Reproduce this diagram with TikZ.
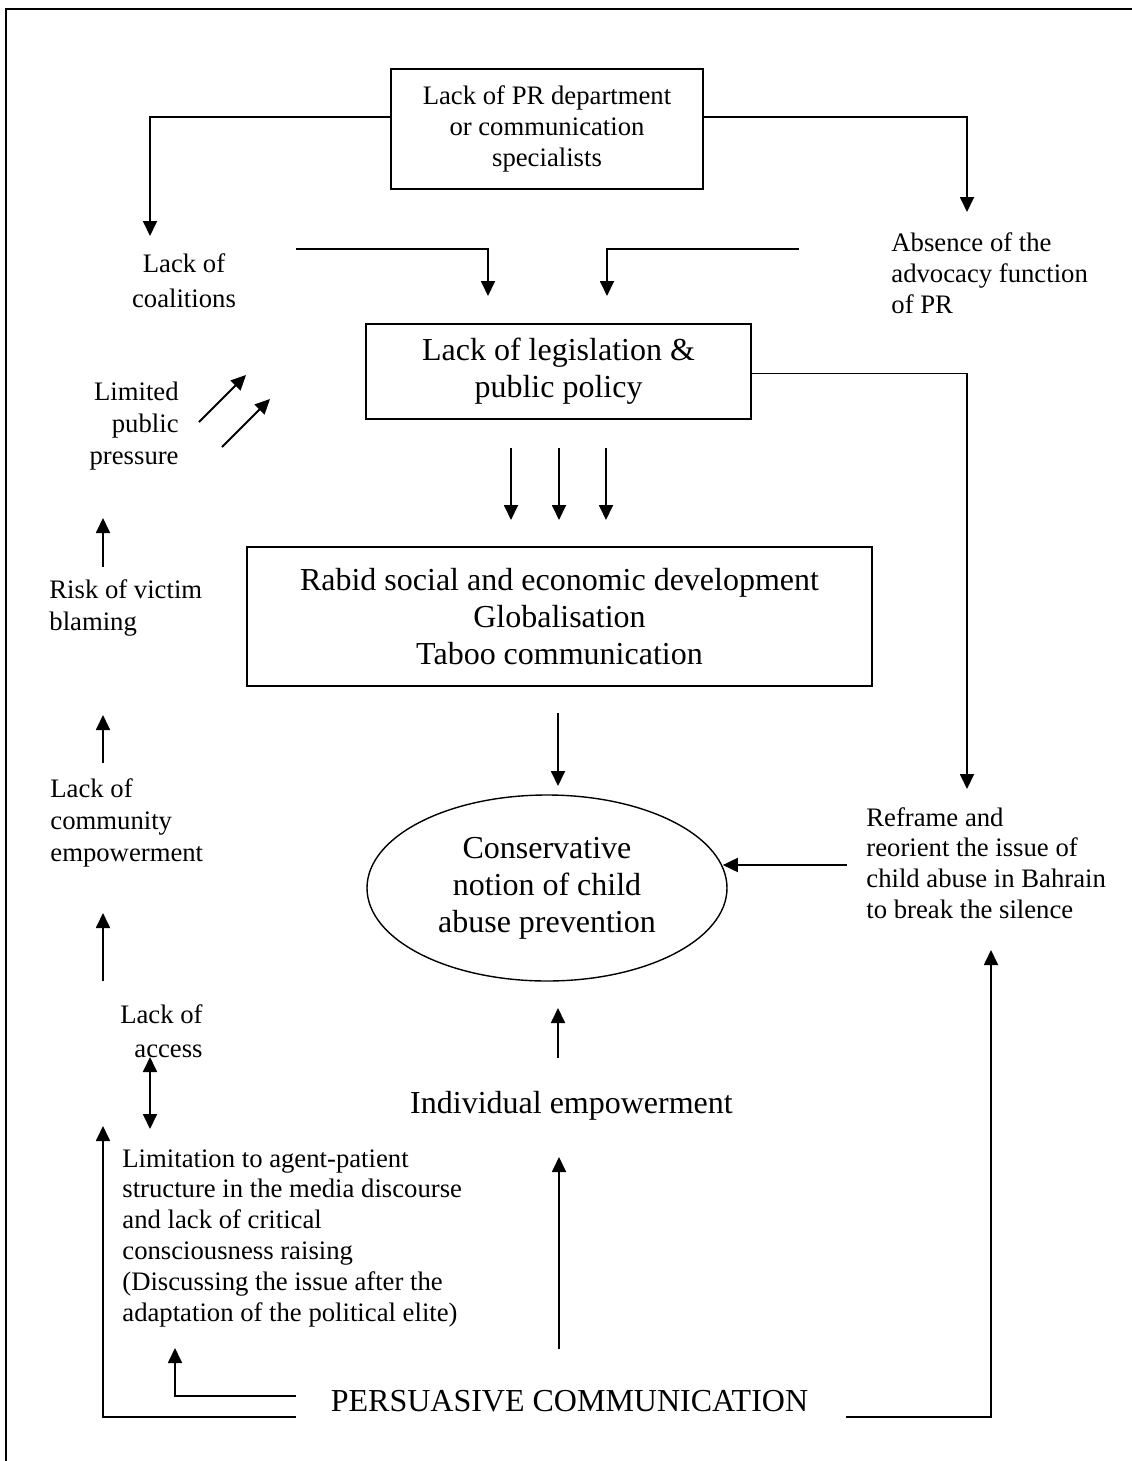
\documentclass[tikz,border=0pt]{standalone}
\usepackage{fontspec}
\setmainfont{Liberation Serif}
\usetikzlibrary{arrows.meta,shapes.geometric}

\tikzset{
  sm/.style={font=\fontsize{13.35}{15.4}\selectfont, inner sep=0pt},
  lg/.style={font=\fontsize{16}{18.5}\selectfont, inner sep=0pt},
  box/.style={draw, line width=0.9pt, inner sep=0pt, align=center},
  ln/.style={line width=0.9pt},
  arr/.style={line width=0.9pt, -{Triangle[length=7.5pt,width=7pt]}},
  darr/.style={line width=0.9pt, {Triangle[length=7.5pt,width=7pt]}-{Triangle[length=7.5pt,width=7pt]}}
}

\begin{document}
\begin{tikzpicture}[x=0.5pt, y=-0.5pt]
\useasboundingbox (0,0) rectangle (1131,1461);

% outer frame (left and top edges)
\draw[ln] (6,1480) -- (6,9) -- (1150,9);

% boxes and ellipse
\node[box, sm, minimum width=156pt, minimum height=60pt] (pr) at (547,129)
  {Lack of PR department\\or communication\\specialists};
\node[box, lg, minimum width=192.5pt, minimum height=47.5pt] (leg) at (558.5,371.5)
  {Lack of legislation \&\\public policy};
\node[box, lg, minimum width=312.5pt, minimum height=69.5pt] (dev) at (559.5,616.5)
  {Rabid social and economic development\\Globalisation\\Taboo communication};
\node[draw, ellipse, line width=0.7pt, lg, align=center, inner sep=0pt,
      minimum width=180pt, minimum height=93pt] (ell) at (547,888)
  {Conservative\\notion of child\\abuse prevention};

% free-standing labels
\node[sm, align=center, font=\fontsize{13.35}{17.5}\selectfont] (coal) at (184,281) {Lack of\\coalitions};
\node[sm, align=left, anchor=west] (adv) at (891,273) {Absence of the\\advocacy function\\of PR};
\node[sm, align=right, anchor=east, font=\fontsize{13.35}{16}\selectfont] (lpp) at (179,426) {Limited\\public\\pressure};
\node[sm, align=left, anchor=west, font=\fontsize{13.35}{16}\selectfont] (risk) at (49,608) {Risk of victim\\blaming};
\node[sm, align=left, anchor=west, font=\fontsize{13.35}{16}\selectfont] (comm) at (50,823) {Lack of\\community\\empowerment};
\node[sm, align=right, anchor=east, font=\fontsize{13.35}{17}\selectfont] (acc) at (203,1031) {Lack of\\access};
\node[sm, align=left, anchor=west] (lim) at (122,1238)
  {Limitation to agent-patient\\structure in the media discourse\\and lack of critical\\consciousness raising\\(Discussing the issue after the\\adaptation of the political elite)};
\node[sm, align=left, anchor=west] (ref) at (866,863)
  {Reframe and\\reorient the issue of\\child abuse in Bahrain\\to break the silence};
\node[lg] (ind) at (571.5,1106) {Individual empowerment};
\node[lg] (per) at (569.5,1401) {PERSUASIVE COMMUNICATION};

% connector end points
\coordinate (c1) at (150,236);
\coordinate (c2) at (967,212);
\coordinate (f1s) at (296,249);  \coordinate (f1e) at (488,296);
\coordinate (f2s) at (799,249);  \coordinate (f2e) at (607,296);
\coordinate (a1s) at (511,448);  \coordinate (a1e) at (511,520);
\coordinate (a2s) at (559,448);  \coordinate (a2e) at (559,520);
\coordinate (a3s) at (606,448);  \coordinate (a3e) at (606,520);
\coordinate (c3) at (967,789);
\coordinate (d1s) at (558,713);  \coordinate (d1e) at (558,786);
\coordinate (rs) at (847,865);
\coordinate (i1s) at (558,1058); \coordinate (i1e) at (558,1008);
\coordinate (p1s) at (559,1349); \coordinate (p1e) at (559,1157);
\coordinate (p2s) at (846,1417); \coordinate (p2e) at (991,950);
\coordinate (p3s) at (296,1396); \coordinate (p3e) at (175,1348);
\coordinate (p4s) at (296,1417); \coordinate (p4e) at (103,1126);
\coordinate (x1) at (150,1129);  \coordinate (x2) at (150,1057);
\coordinate (l1s) at (103,981);  \coordinate (l1e) at (103,913);
\coordinate (l2s) at (103,763);  \coordinate (l2e) at (103,715);
\coordinate (l3s) at (103,567);  \coordinate (l3e) at (103,518);
\coordinate (g1s) at (199,422);  \coordinate (g1e) at (246,375);
\coordinate (g2s) at (222,447);  \coordinate (g2e) at (270,399);

% connectors from the PR box
\draw[arr] ([yshift=6pt]pr.west) -| (c1);
\draw[arr] ([yshift=6pt]pr.east) -| (c2);
\draw[arr] (f1s) -| (f1e);
\draw[arr] (f2s) -| (f2e);

% legislation to development and to reframing
\draw[arr] (a1s) -- (a1e);
\draw[arr] (a2s) -- (a2e);
\draw[arr] (a3s) -- (a3e);
\draw[arr] ([yshift=-1pt]leg.east) -| (c3);

% into the ellipse
\draw[arr] (d1s) -- (d1e);
\draw[arr] (rs) -- (rs -| ell.7.5);
\draw[arr] (i1s) -- (i1e);

% from persuasive communication
\draw[arr] (p1s) -- (p1e);
\draw[arr] (p2s) -| (p2e);
\draw[arr] (p3s) -| (p3e);
\draw[arr] (p4s) -| (p4e);

% left column chain
\draw[darr] (x1) -- (x2);
\draw[arr] (l1s) -- (l1e);
\draw[arr] (l2s) -- (l2e);
\draw[arr] (l3s) -- (l3e);
\draw[arr] (g1s) -- (g1e);
\draw[arr] (g2s) -- (g2e);
\end{tikzpicture}
\end{document}
